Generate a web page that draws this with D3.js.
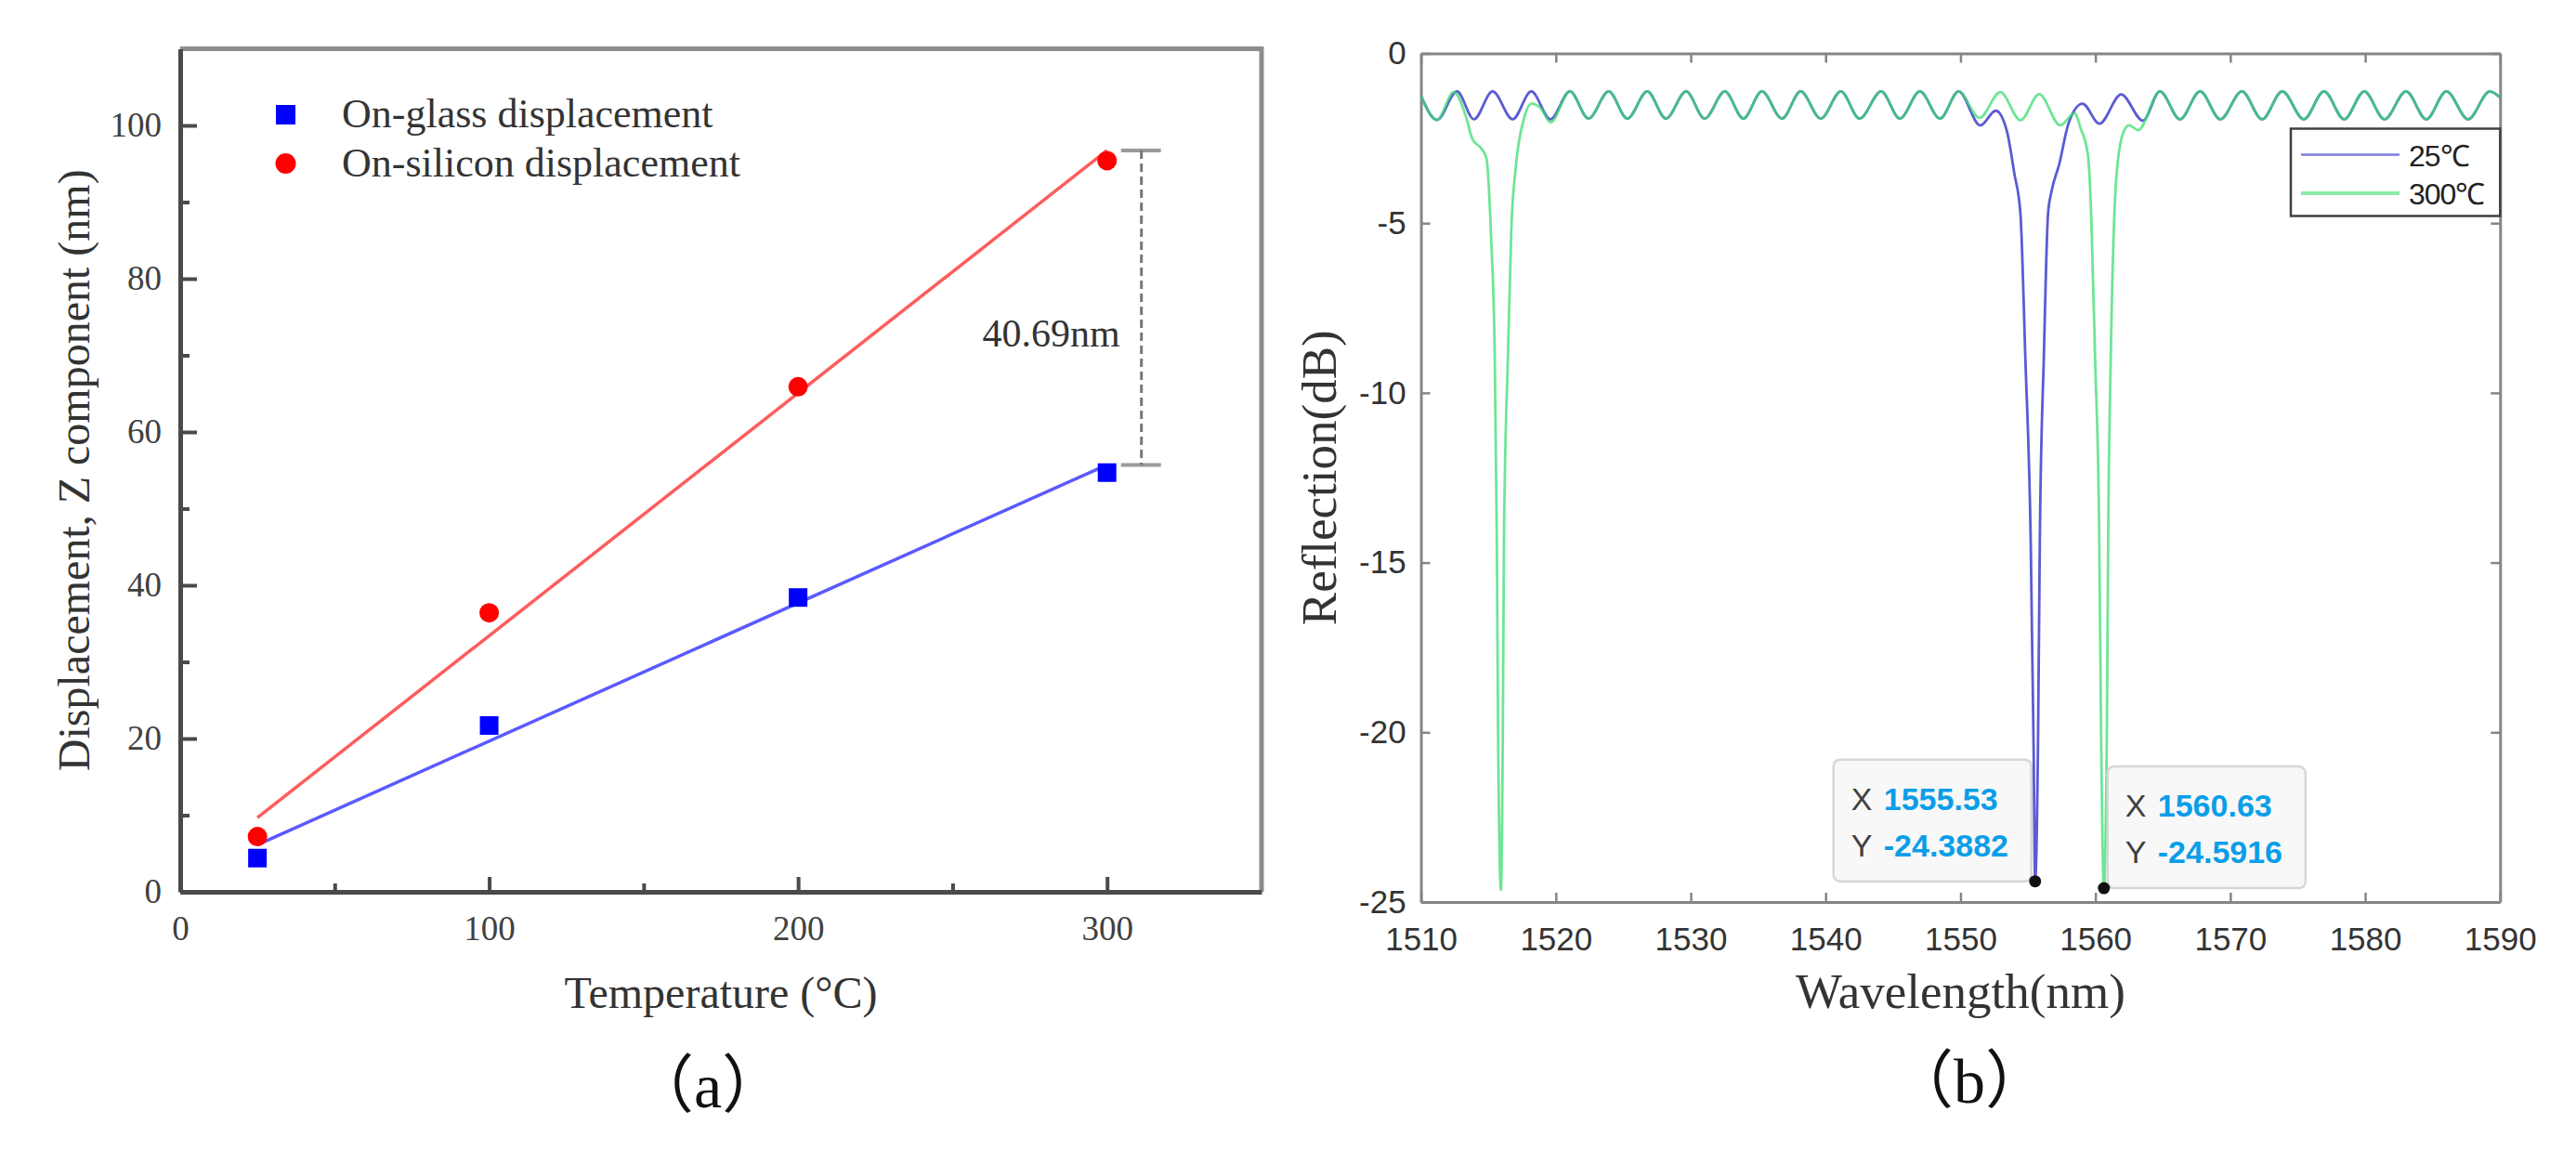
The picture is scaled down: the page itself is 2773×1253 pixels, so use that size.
<!DOCTYPE html>
<html>
<head>
<meta charset="utf-8">
<script src="https://cdn.jsdelivr.net/npm/d3@7"></script>
<style>
	body { margin: 0; background: #fff; }
	svg { display: block; }
</style>
</head>
<body>
<div id="draw"></div>
<script>
// (a) displacement vs temperature
var temps = [25, 100, 200, 300];
var glassDisp = [4.4, 21.7, 38.4, 54.7];
var siliconDisp = [7.2, 36.4, 65.9, 95.4];
var dispNames = ["On-glass displacement", "On-silicon displacement"];
var gapText = "40.69nm";
var tempTicks = [0, 100, 200, 300];
var dispTicks = [0, 20, 40, 60, 80, 100];

// (b) reflection spectra
var wl25 = [1510, 1511.2, 1512.67, 1513.93, 1515.31, 1516.8, 1518.18, 1519.6, 1521.05, 1522.42,
	1523.92, 1525.3, 1526.78, 1528.16, 1529.66, 1531.03, 1532.53, 1533.9, 1535.28, 1536.77,
	1538.15, 1539.64, 1541.13, 1542.51, 1544.12, 1545.5, 1546.99, 1548.48, 1549.86, 1551.47,
	1552.61, 1553.42, 1553.99, 1554.44, 1554.8, 1555.2, 1555.42, 1555.53, 1555.74, 1555.88,
	1556.18, 1556.49, 1556.74, 1557.32, 1558.0, 1559.04, 1560.3, 1561.91, 1563.52, 1564.78,
	1566.27, 1567.76, 1569.26, 1570.86, 1572.36, 1573.85, 1575.45, 1576.95, 1578.44, 1579.93,
	1581.43, 1583.03, 1584.53, 1586.02, 1587.63, 1589.24, 1590];
var refl25 = [-1.25, -1.96, -1.12, -1.94, -1.12, -1.94, -1.12, -1.94, -1.12, -1.92,
	-1.12, -1.92, -1.12, -1.92, -1.12, -1.92, -1.12, -1.92, -1.12, -1.92,
	-1.12, -1.92, -1.12, -1.92, -1.12, -1.92, -1.12, -1.92, -1.12, -2.12,
	-1.69, -2.26, -3.54, -4.71, -8.9, -14.3, -20.5, -24.39, -20.5, -14.3,
	-8.9, -4.71, -4.08, -3.26, -2.07, -1.48, -2.07, -1.21, -1.98, -1.12,
	-1.94, -1.12, -1.94, -1.12, -1.94, -1.12, -1.94, -1.12, -1.94, -1.12,
	-1.94, -1.12, -1.94, -1.12, -1.94, -1.12, -1.3];

var wl300 = [1510, 1511.2, 1512.44, 1513.36, 1513.82, 1514.5, 1514.85, 1515.2, 1515.47, 1515.62,
	1515.72, 1515.93, 1516.07, 1516.16, 1516.45, 1516.7, 1517.03, 1517.6, 1518.2, 1518.86,
	1519.6, 1521.05, 1522.42, 1523.92, 1525.3, 1526.78, 1528.16, 1529.66, 1531.03, 1532.53,
	1533.9, 1535.28, 1536.77, 1538.15, 1539.64, 1541.13, 1542.51, 1544.12, 1545.5, 1546.99,
	1548.48, 1549.86, 1551.4, 1552.95, 1554.45, 1555.83, 1557.4, 1558.46, 1558.9, 1559.45,
	1559.7, 1559.97, 1560.28, 1560.42, 1560.63, 1560.85, 1560.95, 1561.14, 1561.41, 1561.56,
	1562.1, 1562.5, 1563.17, 1564.78, 1566.27, 1567.76, 1569.26, 1570.86, 1572.36, 1573.85,
	1575.45, 1576.95, 1578.44, 1579.93, 1581.43, 1583.03, 1584.53, 1586.02, 1587.63, 1589.24,
	1590];
var refl300 = [-1.25, -1.96, -1.14, -1.89, -2.53, -2.81, -3.08, -5.4, -8.9, -14.1,
	-20.0, -24.64, -20.0, -14.1, -8.9, -5.2, -3.35, -1.98, -1.48, -1.6,
	-2.03, -1.12, -1.92, -1.12, -1.92, -1.12, -1.92, -1.12, -1.92, -1.12,
	-1.92, -1.12, -1.92, -1.12, -1.92, -1.12, -1.92, -1.12, -1.92, -1.12,
	-1.92, -1.12, -1.9, -1.14, -1.97, -1.2, -2.12, -1.76, -2.2, -3.0,
	-4.9, -8.9, -14.1, -20.0, -24.59, -20.0, -14.1, -8.9, -4.71, -3.6,
	-2.3, -2.12, -2.26, -1.12, -1.94, -1.12, -1.94, -1.12, -1.94, -1.12,
	-1.94, -1.12, -1.94, -1.12, -1.94, -1.12, -1.94, -1.12, -1.94, -1.12,
	-1.3];
var specNames = ["25℃", "300℃"];
var specColors = ["#5b5bd4", "#3ddc72"];
var wlTicks = [1510, 1520, 1530, 1540, 1550, 1560, 1570, 1580, 1590];
var reflTicks = [-25, -20, -15, -10, -5, 0];
var tipWl = [1555.53, 1560.63];
var tipRefl = [-24.3882, -24.5916];

var width = 2773, height = 1253;
var serif = "'Liberation Serif', 'Times New Roman', serif";
var sans = "'Liberation Sans', Arial, sans-serif";

var svg = d3.select("#draw").append("svg")
	.attr("width", width)
	.attr("height", height);
svg.append("rect").attr("width", width).attr("height", height).attr("fill", "#fff");

drawPanelA();
drawPanelB();

function linFit(xs, ys) {
	var mx = d3.mean(xs), my = d3.mean(ys);
	var sxy = d3.sum(xs, function(x, i){ return (x - mx) * (ys[i] - my); });
	var sxx = d3.sum(xs, function(x){ return (x - mx) * (x - mx); });
	var b = sxy / sxx;
	return function(x){ return my + b * (x - mx); };
}

function drawPanelA() {
	var x = d3.scaleLinear().domain([0, 350]).range([194, 1358]);
	var y = d3.scaleLinear().domain([0, 110]).range([960, 52.5]);
	var g = svg.append("g");

	// top and right frame
	g.append("path")
		.attr("d", "M" + x(0) + "," + y(110) + "H" + x(350) + "V" + y(0))
		.attr("fill", "none")
		.attr("stroke", "#8c8c8c")
		.attr("stroke-width", 5);

	g.append("g")
		.attr("transform", "translate(" + x(0) + ",0)")
		.call(d3.axisLeft(y).tickValues(dispTicks).tickSizeInner(-18).tickSizeOuter(0).tickPadding(20));
	g.append("g")
		.attr("transform", "translate(" + x(0) + ",0)")
		.call(d3.axisLeft(y).tickValues([10, 30, 50, 70, 90]).tickSizeInner(-10).tickSizeOuter(0).tickFormat(""))
		.select(".domain").remove();
	g.append("g")
		.attr("transform", "translate(0," + y(0) + ")")
		.call(d3.axisBottom(x).tickValues(tempTicks).tickSizeInner(-16).tickSizeOuter(0).tickPadding(26));
	g.append("g")
		.attr("transform", "translate(0," + y(0) + ")")
		.call(d3.axisBottom(x).tickValues([50, 150, 250]).tickSizeInner(-9).tickSizeOuter(0).tickFormat(""))
		.select(".domain").remove();

	g.selectAll(".domain").attr("stroke", "#4a4a4a").attr("stroke-width", 5);
	g.selectAll(".tick line").attr("stroke", "#4a4a4a").attr("stroke-width", 4);
	g.selectAll(".tick text")
		.attr("fill", "#404040")
		.style("font-family", serif)
		.style("font-size", "37px");

	// fitted lines
	var fits = [linFit(temps, glassDisp), linFit(temps, siliconDisp)];
	var fitColors = ["#5a5aff", "#ff5c5c"];
	fits.forEach(function(f, k){
		g.append("line")
			.attr("x1", x(temps[0]))
			.attr("y1", y(f(temps[0])))
			.attr("x2", x(temps[temps.length - 1]))
			.attr("y2", y(f(temps[temps.length - 1])))
			.attr("stroke", fitColors[k])
			.attr("stroke-width", 3.5);
	});

	// markers
	g.selectAll(".glass")
		.data(temps)
		.enter()
		.append("rect")
		.attr("x", function(d){ return x(d) - 10; })
		.attr("y", function(d, i){ return y(glassDisp[i]) - 10; })
		.attr("width", 20)
		.attr("height", 20)
		.attr("fill", "#0000ff");
	g.selectAll(".silicon")
		.data(temps)
		.enter()
		.append("circle")
		.attr("cx", function(d){ return x(d); })
		.attr("cy", function(d, i){ return y(siliconDisp[i]); })
		.attr("r", 10.5)
		.attr("fill", "#ff0000");

	// 300 degree gap marker
	var last = temps[temps.length - 1];
	var yTop = y(fits[1](last)), yBot = y(fits[0](last));
	var xc = x(last) + 37;
	[yTop, yBot].forEach(function(yy){
		g.append("line")
			.attr("x1", x(last) + 15).attr("x2", x(last) + 58)
			.attr("y1", yy).attr("y2", yy)
			.attr("stroke", "#9a9a9a")
			.attr("stroke-width", 4);
	});
	g.append("line")
		.attr("x1", xc).attr("x2", xc)
		.attr("y1", yTop).attr("y2", yBot)
		.attr("stroke", "#777")
		.attr("stroke-width", 3)
		.attr("stroke-dasharray", "9,5");
	g.append("text")
		.text(gapText)
		.attr("x", x(last) + 14)
		.attr("y", (yTop + yBot) / 2 + 42)
		.attr("text-anchor", "end")
		.attr("fill", "#333")
		.style("font-family", serif)
		.style("font-size", "42px");

	// legend
	g.append("rect").attr("x", 297).attr("y", 113).attr("width", 21).attr("height", 21).attr("fill", "#0000ff");
	g.append("circle").attr("cx", 307.5).attr("cy", 176).attr("r", 11).attr("fill", "#ff0000");
	dispNames.forEach(function(name, k){
		g.append("text")
			.text(name)
			.attr("x", 368)
			.attr("y", [123, 176][k] + 14)
			.attr("fill", "#333")
			.style("font-family", serif)
			.style("font-size", "44px");
	});

	// axis titles
	g.append("text")
		.text("Temperature (°C)")
		.attr("x", (x(0) + x(350)) / 2)
		.attr("y", 1085)
		.attr("text-anchor", "middle")
		.attr("fill", "#333")
		.style("font-family", serif)
		.style("font-size", "48px");
	g.append("text")
		.text("Displacement, Z component (nm)")
		.attr("transform", "translate(96," + (y(0) + y(110)) / 2 + ") rotate(-90)")
		.attr("text-anchor", "middle")
		.attr("fill", "#333")
		.style("font-family", serif)
		.style("font-size", "48px");

	g.append("text")
		.text("（a）")
		.attr("x", 762)
		.attr("y", 1192)
		.attr("text-anchor", "middle")
		.attr("fill", "#111")
		.style("font-family", serif + ", 'Noto Sans CJK SC'")
		.style("font-size", "68px");
}

function drawPanelB() {
	var x = d3.scaleLinear().domain([1510, 1590]).range([1529.6, 2691.3]);
	var y = d3.scaleLinear().domain([-25, 0]).range([971, 57.5]);
	var g = svg.append("g");
	var fmt = function(d){ return String(d); };

	g.append("defs").append("clipPath").attr("id", "clipB")
		.append("rect")
		.attr("x", x(1510)).attr("y", y(0))
		.attr("width", x(1590) - x(1510))
		.attr("height", y(-25) - y(0));

	g.append("g")
		.attr("transform", "translate(0," + y(-25) + ")")
		.call(d3.axisBottom(x).tickValues(wlTicks).tickSizeInner(-10).tickSizeOuter(0).tickPadding(27).tickFormat(fmt));
	g.append("g")
		.attr("transform", "translate(0," + y(0) + ")")
		.call(d3.axisTop(x).tickValues(wlTicks).tickSizeInner(-10).tickSizeOuter(0).tickFormat(""));
	g.append("g")
		.attr("transform", "translate(" + x(1510) + ",0)")
		.call(d3.axisLeft(y).tickValues(reflTicks).tickSizeInner(-10).tickSizeOuter(0).tickPadding(16).tickFormat(fmt));
	g.append("g")
		.attr("transform", "translate(" + x(1590) + ",0)")
		.call(d3.axisRight(y).tickValues(reflTicks).tickSizeInner(-10).tickSizeOuter(0).tickFormat(""));

	g.selectAll(".domain").attr("stroke", "#858585").attr("stroke-width", 3);
	g.selectAll(".tick line").attr("stroke", "#858585").attr("stroke-width", 2.5);
	g.selectAll(".tick text")
		.attr("fill", "#333")
		.style("font-family", sans)
		.style("font-size", "35px");

	var series = [[wl25, refl25], [wl300, refl300]];
	var plot = g.append("g").attr("clip-path", "url(#clipB)");
	series.forEach(function(s, k){
		var line = d3.line()
			.x(function(i){ return x(s[0][i]); })
			.y(function(i){ return y(s[1][i]); })
			.curve(d3.curveMonotoneX);
		plot.append("path")
			.datum(d3.range(s[0].length))
			.attr("d", line)
			.attr("fill", "none")
			.attr("stroke", specColors[k])
			.attr("stroke-width", 2.8)
			.attr("stroke-opacity", k == 1 ? 0.75 : 1);
	});

	// legend
	var lg = g.append("g");
	lg.append("rect")
		.attr("x", 2466).attr("y", 138.5)
		.attr("width", x(1590) - 2466).attr("height", 94)
		.attr("fill", "#fff")
		.attr("stroke", "#404040")
		.attr("stroke-width", 2.5);
	specNames.forEach(function(name, k){
		var ly = [166.5, 208][k];
		lg.append("line")
			.attr("x1", 2477).attr("x2", 2583)
			.attr("y1", ly).attr("y2", ly)
			.attr("stroke", specColors[k])
			.attr("stroke-width", k == 0 ? 2.5 : 4)
			.attr("stroke-opacity", k == 0 ? 0.8 : 0.6);
		lg.append("text")
			.text(name)
			.attr("x", 2593)
			.attr("y", ly + 12)
			.attr("fill", "#222")
			.style("font-family", sans)
			.style("font-size", "32px")
			.style("letter-spacing", "-1px");
	});

	// data tips
	tipWl.forEach(function(w, k){
		var px = x(w), py = y(tipRefl[k]);
		var bw = 213, bh = 131;
		var bx = k == 0 ? px - 4 - bw : px + 4;
		var by = py - bh;
		var tip = g.append("g");
		tip.append("rect")
			.attr("x", bx).attr("y", by)
			.attr("width", bw).attr("height", bh)
			.attr("rx", 7)
			.attr("fill", "#f8f8f8")
			.attr("stroke", "#d6d6d6")
			.attr("stroke-width", 2.5);
		var rows = [["X", w.toFixed(2)], ["Y", tipRefl[k].toFixed(4)]];
		rows.forEach(function(r, j){
			tip.append("text")
				.text(r[0])
				.attr("x", bx + 19)
				.attr("y", by + 54 + j * 50)
				.attr("fill", "#404040")
				.style("font-family", sans)
				.style("font-size", "34px");
			tip.append("text")
				.text(r[1])
				.attr("x", bx + 54)
				.attr("y", by + 54 + j * 50)
				.attr("fill", "#0a9ee8")
				.style("font-family", sans)
				.style("font-weight", "bold")
				.style("font-size", "34px");
		});
		g.append("circle")
			.attr("cx", px).attr("cy", py)
			.attr("r", 6.5)
			.attr("fill", "#111");
	});

	g.append("text")
		.text("Wavelength(nm)")
		.attr("x", (x(1510) + x(1590)) / 2)
		.attr("y", 1085)
		.attr("text-anchor", "middle")
		.attr("fill", "#333")
		.style("font-family", serif)
		.style("font-size", "53px");
	g.append("text")
		.text("Reflection(dB)")
		.attr("transform", "translate(1438," + (y(0) + y(-25)) / 2 + ") rotate(-90)")
		.attr("text-anchor", "middle")
		.attr("fill", "#333")
		.style("font-family", serif)
		.style("font-size", "53px");

	g.append("text")
		.text("（b）")
		.attr("x", 2120)
		.attr("y", 1187)
		.attr("text-anchor", "middle")
		.attr("fill", "#111")
		.style("font-family", serif + ", 'Noto Sans CJK SC'")
		.style("font-size", "68px");
}
</script>
</body>
</html>
